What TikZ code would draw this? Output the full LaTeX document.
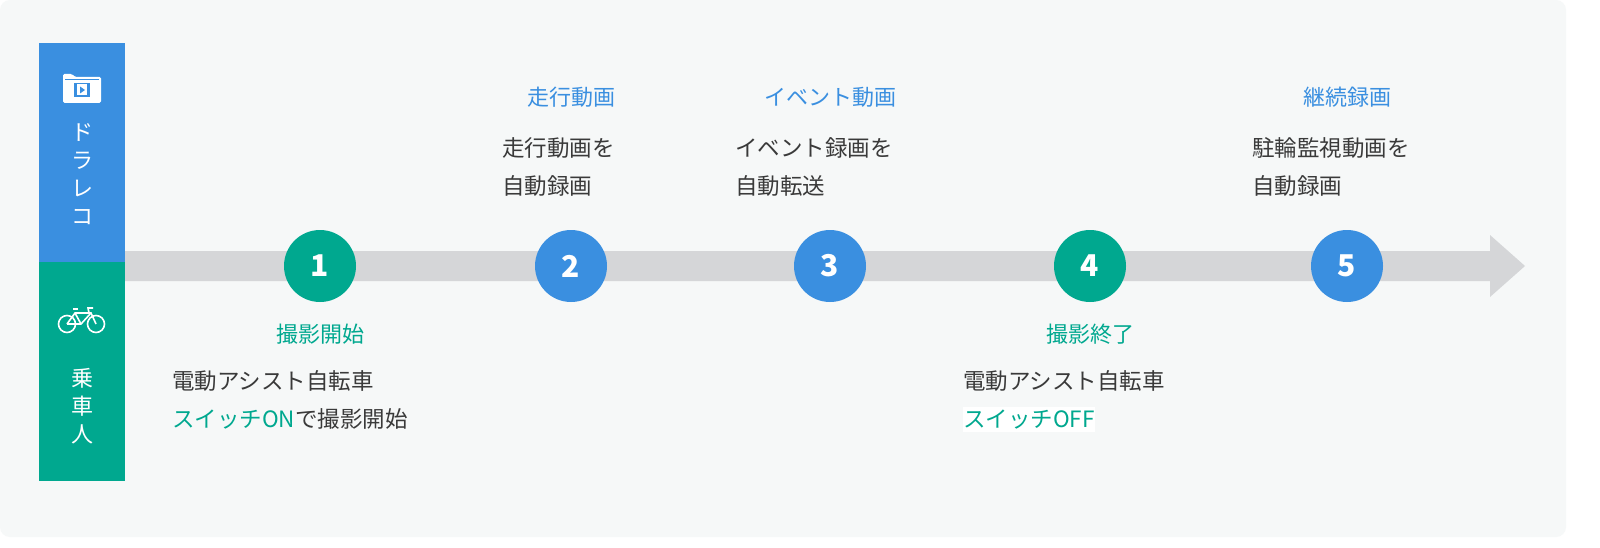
\documentclass[tikz,border=0pt]{standalone}
\usepackage{fontspec}
\setmainfont{Noto Sans CJK JP}
\definecolor{cblue}{HTML}{3A8FE0}
\definecolor{cgreen}{HTML}{00A88F}
\definecolor{cbg}{HTML}{F6F8F8}
\definecolor{cgray}{HTML}{D5D6D8}
\definecolor{ctext}{HTML}{3A3A3A}
\begin{document}
\begin{tikzpicture}[x=1pt,y=-1pt,
  num/.style={circle,minimum size=72pt,inner sep=0pt,text=white,font=\fontsize{30}{30}\selectfont\bfseries},
  head/.style={font=\fontsize{22}{22}\selectfont},
  body/.style={anchor=north west,align=left,text=ctext,font=\fontsize{22.5}{38}\selectfont,inner sep=0pt},
  side/.style={text=white,font=\fontsize{22}{28}\selectfont,align=center}]
\fill[white] (0,0) rectangle (1600,548);
\fill[cbg,rounded corners=10pt] (0,0) rectangle (1566,537);
% left bars
\fill[cblue] (39,43) rectangle (125,262);
\fill[cgreen] (39,262) rectangle (125,481);
% arrow
\fill[cgray] (125,251) -- (1490,251) -- (1490,235) -- (1525,266) -- (1490,297) -- (1490,281) -- (125,281) -- cycle;
% folder icon
\fill[white,rounded corners=1.5pt] (63,74) -- (72,74) -- (75,77) -- (101,77) -- (101,103) -- (63,103) -- cycle;
\fill[cblue] (65,79) rectangle (99,80.5);
\fill[cblue] (74,83) rectangle (90,97);
\fill[white] (77,84.5) rectangle (87,95.5);
\fill[cblue] (80,86.5) -- (85,90) -- (80,93.5) -- cycle;
% bike icon
\begin{scope}[white,line width=1.6pt]
\draw (67,324) circle (8.5);
\draw (96,324) circle (8.5);
\draw (67,324) -- (75,313) -- (91,313) -- (96,324);
\draw (67,324) -- (81,324) -- (91,313);
\draw (75,313) -- (81,324);
\draw (73,309) -- (78,309);
\draw (89,313) -- (88,308) -- (93,308);
\end{scope}
\node[side] (dr) at (82,174) {ド\\ラ\\レ\\コ};
\node[side] (jo) at (82,406) {乗\\車\\人};
% circles
\node[num,fill=cgreen] (n1) at (320,266) {1};
\node[num,fill=cblue] (n2) at (571,266) {2};
\node[num,fill=cblue] (n3) at (830,266) {3};
\node[num,fill=cgreen] (n4) at (1090,266) {4};
\node[num,fill=cblue] (n5) at (1347,266) {5};
% headings
\node[head,text=cblue] (h2) at (571,97) {走行動画};
\node[head,text=cblue] (h3) at (830,97) {イベント動画};
\node[head,text=cblue] (h5) at (1347,97) {継続録画};
\node[head,text=cgreen] (h1) at (320,334) {撮影開始};
\node[head,text=cgreen] (h4) at (1090,334) {撮影終了};
% bodies
\node[body] (b2) at (502,137) {走行動画を\\自動録画};
\node[body] (b3) at (735,137) {イベント録画を\\自動転送};
\node[body] (b5) at (1252,137) {駐輪監視動画を\\自動録画};
\node[body] (b1) at (172,370) {電動アシスト自転車\\\textcolor{cgreen}{スイッチON}で撮影開始};
\node[body] (b4) at (963,370) {電動アシスト自転車\\\colorbox{white}{\hspace{-3pt}\textcolor{cgreen}{スイッチOFF}\hspace{-3pt}}};
\pgfresetboundingbox
\useasboundingbox (0,0) rectangle (1600,548);
\end{tikzpicture}
\end{document}
